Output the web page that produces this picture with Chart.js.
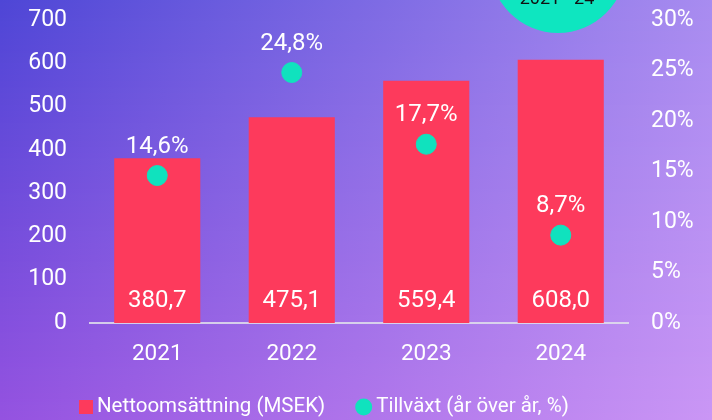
<!DOCTYPE html>
<html>
<head>
<meta charset="utf-8">
<script src="https://cdn.jsdelivr.net/npm/chart.js@4.4.1/dist/chart.umd.min.js"></script>
<style>
  html, body { margin: 0; padding: 0; background: #7c5ee0; }
  #wrap { width: 712px; height: 420px; position: relative; }
</style>
</head>
<body>
<div id="wrap"><canvas id="c" width="712" height="420"></canvas></div>
<script>
const categories = ['2021', '2022', '2023', '2024'];
const revenue = [380.7, 475.1, 559.4, 608.0];
const growth = [14.6, 24.8, 17.7, 8.7];
const revenueLabel = 'Nettoomsättning (MSEK)';
const growthLabel = 'Tillväxt (år över år, %)';
const badgeText = '2021 - 24';

const FONT = 'Roboto';
const BAR_COLOR = '#fd3a5c';
const DOT_COLOR = '#10e2be';
const fmt = v => v.toFixed(1).replace('.', ',');

const bgPlugin = {
  id: 'bg',
  beforeDraw(chart) {
    const ctx = chart.ctx, W = chart.width, H = chart.height;
    const TL = [78, 70, 214], TR = [168, 140, 240], BL = [148, 82, 224], BR = [202, 150, 245];
    const lerp = (a, b, t) => a.map((v, i) => Math.round(v + (b[i] - v) * t));
    ctx.save();
    for (let y = 0; y < H; y++) {
      const t = y / (H - 1);
      const l = lerp(TL, BL, t), r = lerp(TR, BR, t);
      const g = ctx.createLinearGradient(0, 0, W, 0);
      g.addColorStop(0, `rgb(${l})`);
      g.addColorStop(1, `rgb(${r})`);
      ctx.fillStyle = g;
      ctx.fillRect(0, y, W, 1);
    }
    ctx.beginPath();
    ctx.arc(558, -35, 68, 0, Math.PI * 2);
    ctx.fillStyle = '#0ee6c0';
    ctx.fill();
    ctx.fillStyle = '#111';
    ctx.font = `18px ${FONT}`;
    ctx.textAlign = 'center';
    ctx.textBaseline = 'alphabetic';
    ctx.fillText('16,9%', 557, -18);
    ctx.fillText(badgeText, 557, 4);
    ctx.restore();
  }
};

const labelPlugin = {
  id: 'vals',
  afterDatasetsDraw(chart) {
    const ctx = chart.ctx;
    ctx.save();
    ctx.fillStyle = '#ffffff';
    ctx.font = `24px ${FONT}`;
    ctx.textAlign = 'center';
    ctx.textBaseline = 'middle';
    chart.getDatasetMeta(0).data.forEach((el, i) => {
      ctx.fillText(fmt(revenue[i]), el.x, el.base - 22);
    });
    chart.getDatasetMeta(1).data.forEach((el, i) => {
      ctx.fillText(fmt(growth[i]) + '%', el.x, el.y - 29);
    });
    ctx.restore();
  }
};

const legendPlugin = {
  id: 'customLegend',
  afterDraw(chart) {
    const ctx = chart.ctx;
    const cy = 407;
    ctx.save();
    ctx.font = `20.5px ${FONT}`;
    ctx.textBaseline = 'middle';
    ctx.textAlign = 'left';
    let x = 79;
    ctx.fillStyle = BAR_COLOR;
    ctx.fillRect(x, cy - 7, 14, 14);
    ctx.fillStyle = '#ffffff';
    const t1 = chart.data.datasets[0].label;
    ctx.fillText(t1, x + 18, cy);
    x = x + 18 + ctx.measureText(t1).width + 30;
    ctx.beginPath();
    ctx.arc(x + 8.5, cy, 8.5, 0, Math.PI * 2);
    ctx.fillStyle = DOT_COLOR;
    ctx.fill();
    ctx.fillStyle = '#ffffff';
    ctx.fillText(chart.data.datasets[1].label, x + 21, cy);
    ctx.restore();
  }
};

new Chart(document.getElementById('c'), {
  data: {
    labels: categories,
    datasets: [
      {
        type: 'bar',
        label: revenueLabel,
        data: revenue,
        backgroundColor: BAR_COLOR,
        yAxisID: 'y',
        order: 1,
        barPercentage: 0.8,
        categoryPercentage: 0.8
      },
      {
        type: 'line',
        label: growthLabel,
        data: growth,
        showLine: false,
        pointRadius: 10,
        pointHoverRadius: 10,
        pointBackgroundColor: DOT_COLOR,
        pointBorderColor: DOT_COLOR,
        backgroundColor: DOT_COLOR,
        borderColor: DOT_COLOR,
        yAxisID: 'y1',
        order: 0
      }
    ]
  },
  options: {
    responsive: false,
    animation: false,
    layout: { padding: { top: 20, left: 0, right: 0, bottom: 0 } },
    plugins: {
      tooltip: { enabled: false },
      legend: { display: false }
    },
    scales: {
      x: {
        grid: { display: false, drawTicks: false },
        border: { display: true, color: 'rgba(225,225,235,0.85)', width: 2 },
        ticks: { color: '#ffffff', font: { family: FONT, size: 22.5 }, padding: 18 },
        afterFit(s) { s.height = 97; }
      },
      y: {
        position: 'left',
        min: 0, max: 700,
        ticks: { stepSize: 100, color: '#ffffff', font: { family: FONT, size: 23 }, padding: 23 },
        grid: { display: false, drawTicks: false },
        border: { display: false },
        afterFit(s) { s.width = 90; s.paddingTop = 0; s.paddingBottom = 0; }
      },
      y1: {
        position: 'right',
        min: 0, max: 30,
        ticks: { stepSize: 5, color: '#ffffff', font: { family: FONT, size: 23 }, padding: 23,
          callback: v => v + '%' },
        grid: { display: false, drawTicks: false },
        border: { display: false },
        afterFit(s) { s.width = 84; s.paddingTop = 0; s.paddingBottom = 0; }
      }
    }
  },
  plugins: [bgPlugin, labelPlugin, legendPlugin]
});
</script>
</body>
</html>
